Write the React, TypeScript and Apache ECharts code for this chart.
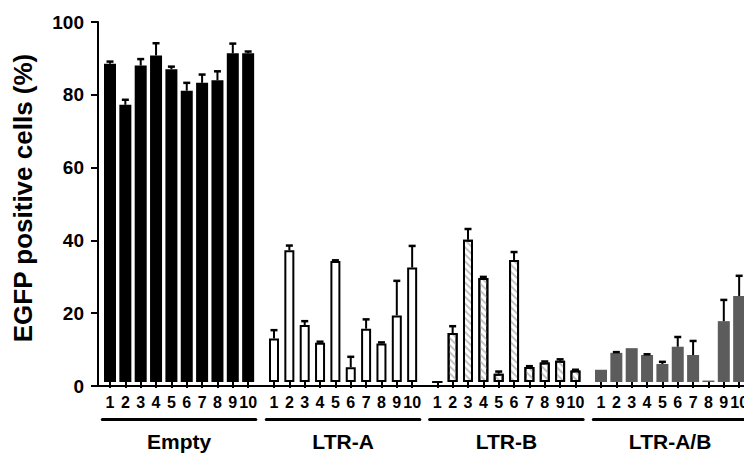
import React, { useEffect, useRef } from "react";
import * as echarts from "echarts";

const groupNames = ["Empty", "LTR-A", "LTR-B", "LTR-A/B"];
const sampleLabels = ["1", "2", "3", "4", "5", "6", "7", "8", "9", "10"];
const yTicks = [0, 20, 40, 60, 80, 100];

const emptyMean = [88.4, 77.0, 87.9, 90.7, 86.9, 80.9, 83.1, 83.8, 91.3, 91.3];
const emptyErr = [0.6, 1.4, 1.8, 3.4, 0.7, 2.2, 2.3, 2.5, 2.7, 0.5];
const ltrAMean = [12.1, 36.6, 15.8, 10.9, 33.6, 4.1, 14.8, 10.7, 18.5, 31.8];
const ltrAErr = [2.3, 1.3, 1.1, 0.3, 0.2, 2.9, 2.6, 0.3, 9.6, 6.0];
const ltrBMean = [0, 13.6, 39.5, 28.9, 2.3, 33.9, 4.2, 5.4, 5.9, 3.2];
const ltrBErr = [0, 1.9, 3.0, 0.3, 0.6, 2.2, 0.2, 0.3, 0.4, 0.2];
const ltrABMean = [3.4, 8.1, 9.4, 7.5, 5.0, 9.8, 7.5, 0.4, 16.9, 23.9];
const ltrABErr = [0, 0.2, 0, 0.2, 0.6, 2.7, 3.9, 0, 5.9, 5.6];

const means = [emptyMean, ltrAMean, ltrBMean, ltrABMean];
const errs = [emptyErr, ltrAErr, ltrBErr, ltrABErr];

// container is wider than the 744px window so the last group runs off the edge, as in the reference
const W = 780;
const H = 457;
const FONT = "Liberation Sans";
const PLOT_TOP = 22;
const PLOT_BOTTOM = 71;
const AXIS_LEFT = 98;
const SLOT = 15.35;
const firstCenters = [110, 274, 437.3, 601];

export default function App() {
  const ref = useRef<HTMLDivElement>(null);
  useEffect(() => {
    if (!ref.current) return;
    const chart = echarts.init(ref.current, undefined, { renderer: "svg" });

    const grids: any[] = [
      { left: AXIS_LEFT, right: 0, top: PLOT_TOP, bottom: PLOT_BOTTOM },
    ];
    const xAxes: any[] = [
      {
        type: "category",
        gridIndex: 0,
        data: [""],
        axisLine: { show: true, lineStyle: { color: "#000", width: 2 } },
        axisTick: { show: false },
        axisLabel: { show: false },
      },
    ];
    const yAxes: any[] = [
      {
        type: "value",
        gridIndex: 0,
        min: 0,
        max: 100,
        interval: 20,
        data: yTicks,
        splitLine: { show: false },
        axisLine: { show: true, lineStyle: { color: "#000", width: 2 } },
        axisTick: { show: true, length: 7, lineStyle: { color: "#000", width: 2 } },
        axisLabel: {
          color: "#000",
          fontSize: 19,
          fontWeight: "bold",
          fontFamily: FONT,
          margin: 14,
        },
        name: "EGFP positive cells (%)",
        nameLocation: "middle",
        nameGap: 62,
        nameRotate: 90,
        nameTextStyle: {
          color: "#000",
          fontSize: 26,
          fontWeight: "bold",
          fontFamily: FONT,
          padding: [0, 0, 0, 12],
        },
      },
    ];
    const underlineAxes: any[] = [];
    const series: any[] = [];

    const barStyles: any[] = [
      { color: "#000" },
      { color: "#fff", borderColor: "#000", borderWidth: 2 },
      {
        color: "#fff",
        borderColor: "#000",
        borderWidth: 2,
        decal: {
          symbol: "rect",
          symbolSize: 1,
          color: "#c4c4c4",
          backgroundColor: "#fff",
          dashArrayX: [1, 0],
          dashArrayY: [2, 3],
          rotation: Math.PI / 4,
        },
      },
      { color: "#5c5c5c" },
    ];
    const barWidths = [12, 10, 10, 12];

    groupNames.forEach((name, g) => {
      const gi = g + 1;
      grids.push({
        left: firstCenters[g] - SLOT / 2,
        width: SLOT * 10,
        top: PLOT_TOP,
        bottom: PLOT_BOTTOM,
      });
      xAxes.push({
        type: "category",
        gridIndex: gi,
        data: sampleLabels,
        axisLine: { show: false },
        axisTick: {
          show: true,
          alignWithLabel: true,
          length: 6,
          lineStyle: { color: "#000", width: 2 },
        },
        axisLabel: {
          interval: 0,
          color: "#000",
          fontSize: 16,
          fontWeight: "bold",
          fontFamily: FONT,
          margin: 12,
        },
      });
      underlineAxes.push({
        type: "category",
        gridIndex: gi,
        position: "bottom",
        offset: 37,
        data: sampleLabels,
        axisLine: { show: true, lineStyle: { color: "#000", width: 3 } },
        axisTick: { show: false },
        axisLabel: { show: false },
        name,
        nameLocation: "middle",
        nameGap: 12,
        nameTextStyle: {
          color: "#000",
          fontSize: 21,
          fontWeight: "bold",
          fontFamily: FONT,
        },
      });
      yAxes.push({
        type: "value",
        gridIndex: gi,
        min: 0,
        max: 100,
        show: false,
      });
      series.push({
        type: "bar",
        xAxisIndex: gi,
        yAxisIndex: gi,
        barWidth: barWidths[g],
        itemStyle: barStyles[g],
        data: means[g],
        z: 2,
      });
      series.push({
        type: "custom",
        xAxisIndex: gi,
        yAxisIndex: gi,
        z: 3,
        data: means[g].map((m, i) => [i, m, errs[g][i]]),
        renderItem: (params: any, api: any) => {
          const i = api.value(0);
          const m = api.value(1);
          const e = api.value(2);
          if (!e) return { type: "group", children: [] };
          const base = api.coord([i, m]);
          const top = api.coord([i, m + e]);
          return {
            type: "group",
            children: [
              {
                type: "line",
                shape: { x1: base[0], y1: base[1], x2: top[0], y2: top[1] },
                style: { stroke: "#000", lineWidth: 2 },
              },
              {
                type: "line",
                shape: { x1: top[0] - 3.5, y1: top[1], x2: top[0] + 3.5, y2: top[1] },
                style: { stroke: "#000", lineWidth: 2.5 },
              },
            ],
          };
        },
      });
    });

    chart.setOption({
      animation: false,
      textStyle: { fontFamily: FONT },
      grid: grids,
      xAxis: [...xAxes, ...underlineAxes],
      yAxis: yAxes,
      series,
    });
    return () => chart.dispose();
  }, []);
  return (
    <div
      ref={ref}
      style={{ position: "fixed", left: 0, top: 0, width: W, height: H, background: "#fff" }}
    />
  );
}
